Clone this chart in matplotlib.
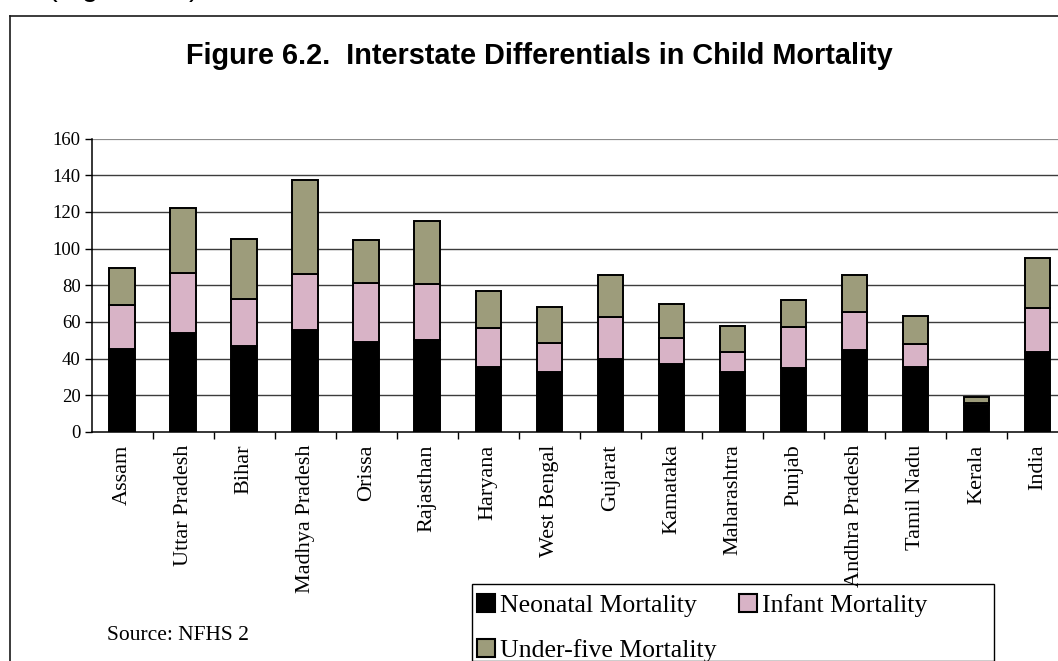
import matplotlib
matplotlib.use("Agg")
import matplotlib.pyplot as plt
from matplotlib.patches import Patch, Rectangle
from matplotlib.lines import Line2D
import numpy as np

states = ["Assam", "Uttar Pradesh", "Bihar", "Madhya Pradesh", "Orissa", "Rajasthan",
          "Haryana", "West Bengal", "Gujarat", "Kamataka", "Maharashtra", "Punjab",
          "Andhra Pradesh", "Tamil Nadu", "Kerala", "India"]
neonatal = [45, 54, 47, 55.5, 49, 50, 35.5, 32.5, 40, 37, 32.5, 35, 44.5, 35.5, 14.5, 43.5]
infant = [69, 86.5, 72.5, 86, 81, 80.5, 56.5, 48.5, 62.5, 51.5, 43.5, 57, 65.5, 48, 16, 67.5]
under_five = [89.5, 122, 105, 137.5, 104.5, 115, 77, 68, 85.5, 70, 58, 72, 85.5, 63.5, 19, 95]
y_ticks = [0, 20, 40, 60, 80, 100, 120, 140, 160]

W, H = 1058, 661
fig = plt.figure(figsize=(W / 100, H / 100), dpi=100)
fig.patch.set_facecolor("white")

def fx(x):
    return x / W

def fy(y):
    return 1 - y / H

C_NEO = "#000000"
C_INF = "#D8B3C6"
C_U5 = "#9D9C7B"
SERIF = "Liberation Serif"
SANS = "Liberation Sans"

# axes placement (pixel coords of reference)
left_px, right_px = 91.7, 91.7 + 16 * 61.02
top_px, bot_px = 138.5, 432.0
ax = fig.add_axes([fx(left_px), fy(bot_px), fx(right_px) - fx(left_px), fy(top_px) - fy(bot_px)])
ax.set_facecolor("none")

x = np.arange(len(states))
neo = np.array(neonatal)
inf = np.array(infant)
u5 = np.array(under_five)
bw = 0.42
ax.bar(x, neo, bw, color=C_NEO, edgecolor="black", linewidth=1.4, zorder=3)
ax.bar(x, inf - neo, bw, bottom=neo, color=C_INF, edgecolor="black", linewidth=1.4, zorder=3)
ax.bar(x, u5 - inf, bw, bottom=inf, color=C_U5, edgecolor="black", linewidth=1.4, zorder=3)

ax.set_xlim(-0.5, len(states) - 0.5)
ax.set_ylim(0, 160)
ax.set_yticks(y_ticks)
ax.set_yticklabels([str(v) for v in y_ticks], fontfamily=SERIF, fontsize=13.5)
for v in y_ticks[1:-1]:
    ax.axhline(v, color="#3c3c3c", lw=1.0, zorder=1)
ax.axhline(160, color="#8c8c8c", lw=1.6, zorder=1)

ax.set_xticks(x)
ax.set_xticklabels(states, rotation=90, fontfamily=SERIF, fontsize=16)
ax.set_xticks(np.arange(len(states)) + 0.5, minor=True)
ax.tick_params(axis="x", which="major", length=0, pad=9)
ax.tick_params(axis="x", which="minor", length=5, width=1.0, direction="out", color="black")
ax.tick_params(axis="y", length=5, width=1.0, direction="out", pad=3, color="black")
for s in ["top", "right"]:
    ax.spines[s].set_visible(False)
ax.spines["left"].set_linewidth(1.1)
ax.spines["bottom"].set_linewidth(1.1)
ax.spines["left"].set_zorder(4)
ax.spines["bottom"].set_zorder(4)

# outer frame
fig.add_artist(Line2D([fx(9.5), 1.0], [fy(15.5), fy(15.5)], color="#1a1a1a", lw=1.2))
fig.add_artist(Line2D([fx(9.5), fx(9.5)], [fy(15.5), 0.0], color="#1a1a1a", lw=1.2))

# partially visible caption at very top (cut off in the reference too)
fig.text(fx(48), fy(-4), "(Figure 6.2)", fontfamily=SANS, fontsize=21,
         ha="left", va="baseline", color="black")

# title
fig.text(fx(539), fy(64), "Figure 6.2.  Interstate Differentials in Child Mortality",
         fontfamily=SANS, fontweight="bold", fontsize=20.8, ha="center", va="baseline")

# source
fig.text(fx(107), fy(640), "Source: NFHS 2", fontfamily=SERIF, fontsize=15.5,
         ha="left", va="baseline")

# legend frame
fig.add_artist(Rectangle((fx(471.7), 0.0), fx(994) - fx(471.7), fy(584.3),
                         fill=False, edgecolor="black", lw=1.0, transform=fig.transFigure))

h_neo = Patch(facecolor=C_NEO, edgecolor="black", lw=1.5, label="Neonatal Mortality")
h_inf = Patch(facecolor=C_INF, edgecolor="black", lw=1.5, label="Infant Mortality")
h_u5 = Patch(facecolor=C_U5, edgecolor="black", lw=1.5, label="Under-five Mortality")
fig.legend(handles=[h_neo, h_u5, h_inf], ncol=2, loc="upper left",
           bbox_to_anchor=(fx(477), fy(594)), frameon=False,
           prop={"family": SERIF, "size": 18.5},
           handlelength=0.7, handleheight=0.7, handletextpad=0.18,
           columnspacing=0.9, borderpad=0, borderaxespad=0, labelspacing=0.86)

fig.savefig("out.png", dpi=100)
